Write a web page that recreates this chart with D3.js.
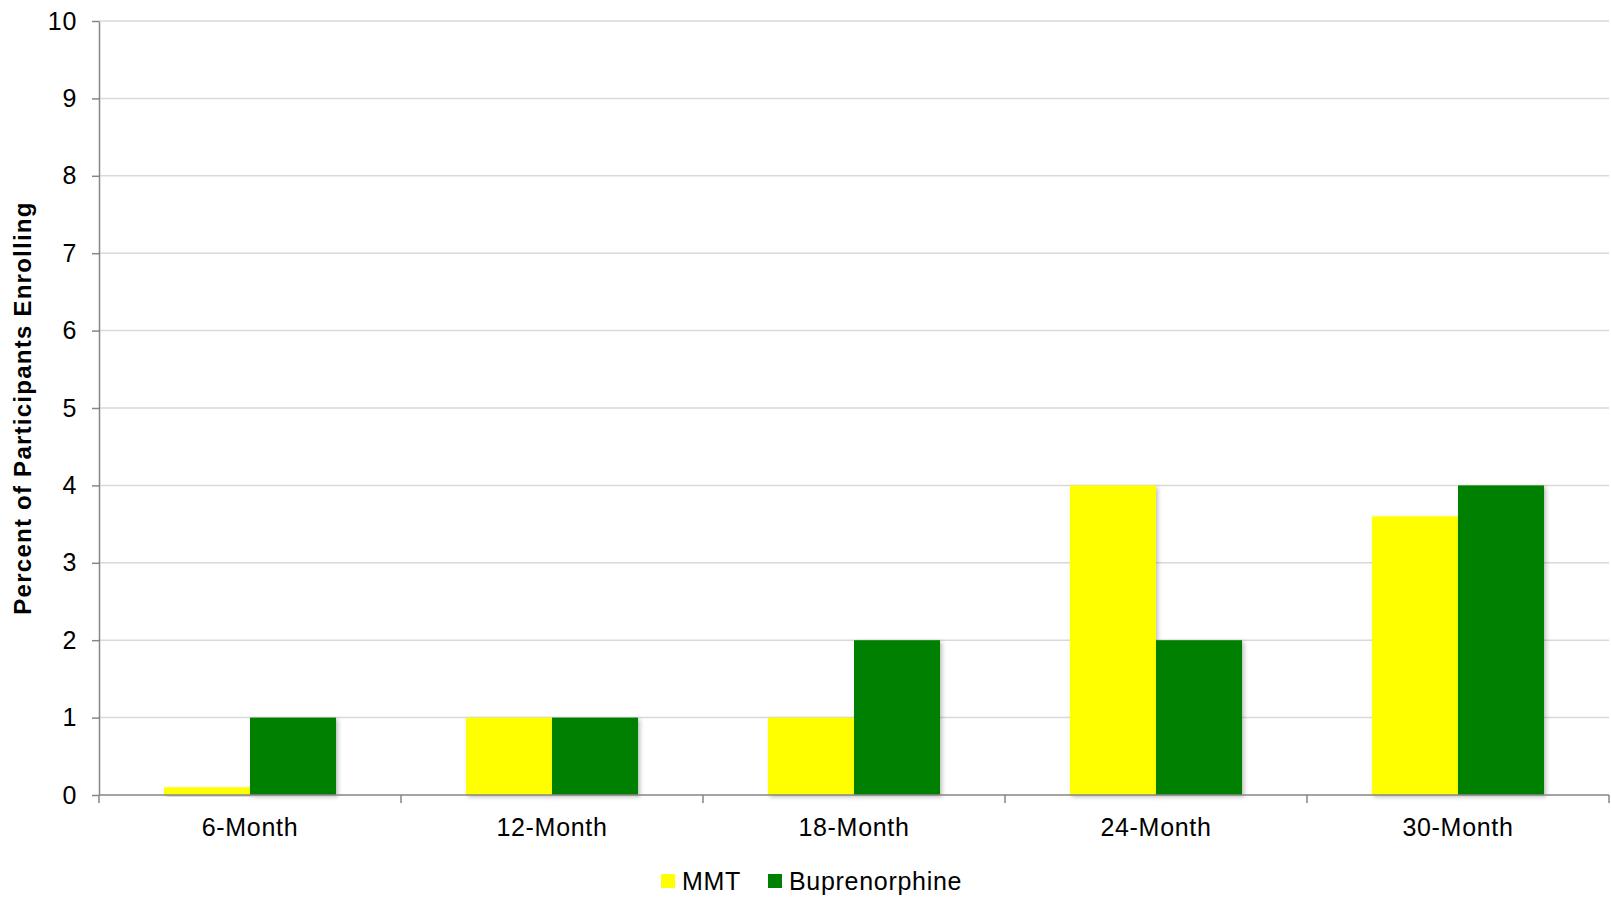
<!DOCTYPE html>
<html>
<head>
<meta charset="utf-8">
<script src="https://cdn.jsdelivr.net/npm/d3@7"></script>
<style>
  html, body { margin: 0; padding: 0; background: #fff; }
  svg { display: block; font-family: "Liberation Sans", Arial, sans-serif; }
</style>
</head>
<body>
<svg id="chart" width="1611" height="897"></svg>
<script>
// Enrollment by follow-up visit, per treatment arm
const categories = ["6-Month", "12-Month", "18-Month", "24-Month", "30-Month"];
const seriesNames = ["MMT", "Buprenorphine"];
const mmtValues = [0.1, 1, 1, 4, 3.6];
const buprenorphineValues = [1, 1, 2, 2, 4];
const seriesColors = ["#ffff00", "#008000"];
const yTicks = [0, 1, 2, 3, 4, 5, 6, 7, 8, 9, 10];

const seriesValues = [mmtValues, buprenorphineValues];

const labelFont = 25;
const labelSpacing = 0.7;

const svg = d3.select("#chart");
const margin = { top: 21, right: 2, bottom: 102, left: 99 };
const width = 1611 - margin.left - margin.right;
const height = 897 - margin.top - margin.bottom;

const defs = svg.append("defs");
const shadow = defs.append("filter").attr("id", "barShadow")
  .attr("x", "-10%").attr("y", "-10%").attr("width", "130%").attr("height", "130%");
shadow.append("feDropShadow").attr("dx", 2).attr("dy", 2).attr("stdDeviation", 2)
  .attr("flood-color", "#000").attr("flood-opacity", 0.25);

const g = svg.append("g").attr("transform", `translate(${margin.left},${margin.top})`);

const x0 = d3.scaleBand().domain(categories).range([0, width]).paddingInner(0.43).paddingOuter(0.215);
const x1 = d3.scaleBand().domain(seriesNames).range([0, x0.bandwidth()]);
const y = d3.scaleLinear().domain([0, 10]).range([height, 0]);

// horizontal gridlines
g.append("g").selectAll("line").data(yTicks.filter(d => d > 0)).join("line")
  .attr("x1", 0).attr("x2", width)
  .attr("y1", d => y(d)).attr("y2", d => y(d))
  .attr("stroke", "#d9d9d9").attr("stroke-width", 1.5);

// bars
const groups = g.append("g").selectAll("g").data(categories).join("g")
  .attr("transform", d => `translate(${x0(d)},0)`);
groups.selectAll("rect")
  .data((c, i) => seriesNames.map((s, k) => ({ s, k, v: seriesValues[k][i] })))
  .join("rect")
  .attr("x", d => x1(d.s))
  .attr("y", d => y(d.v))
  .attr("width", x1.bandwidth())
  .attr("height", d => y(0) - y(d.v))
  .attr("fill", d => seriesColors[d.k])
  .attr("filter", "url(#barShadow)");

// y axis
const yAxis = g.append("g")
  .call(d3.axisLeft(y).tickValues(yTicks).tickSize(7).tickPadding(15).tickSizeOuter(0));
yAxis.select(".domain").attr("stroke", "#868686").attr("stroke-width", 1.5);
yAxis.selectAll(".tick line").attr("stroke", "#868686").attr("stroke-width", 1.5);
yAxis.selectAll(".tick text").attr("font-size", labelFont).attr("fill", "#000")
  .attr("letter-spacing", labelSpacing)
  .attr("font-family", "Liberation Sans, Arial, sans-serif");

// x axis: baseline with boundary ticks
const xg = g.append("g").attr("transform", `translate(0,${height})`);
xg.append("line").attr("x1", 0).attr("x2", width).attr("y1", 0).attr("y2", 0)
  .attr("stroke", "#868686").attr("stroke-width", 1.5);
const boundaries = d3.range(categories.length + 1).map(i => i * width / categories.length);
xg.selectAll("line.bt").data(boundaries).join("line").attr("class", "bt")
  .attr("x1", d => d).attr("x2", d => d).attr("y1", 0).attr("y2", 8)
  .attr("stroke", "#868686").attr("stroke-width", 1.5);
xg.selectAll("text").data(categories).join("text")
  .attr("x", d => x0(d) + x0.bandwidth() / 2)
  .attr("y", 41)
  .attr("text-anchor", "middle")
  .attr("font-size", labelFont)
  .attr("letter-spacing", labelSpacing)
  .text(d => d);

// y axis title
svg.append("text")
  .attr("transform", `translate(31,${margin.top + height / 2}) rotate(-90)`)
  .attr("text-anchor", "middle")
  .attr("font-size", 24)
  .attr("font-weight", "bold")
  .attr("letter-spacing", 1.25)
  .text("Percent of Participants Enrolling");

// legend
const legendX = [661, 768];
const legend = svg.append("g");
seriesNames.forEach((name, k) => {
  legend.append("rect").attr("x", legendX[k]).attr("y", 874).attr("width", 14).attr("height", 14)
    .attr("fill", seriesColors[k]);
  legend.append("text").attr("x", legendX[k] + 21).attr("y", 890)
    .attr("font-size", labelFont).attr("letter-spacing", labelSpacing).text(name);
});
</script>
</body>
</html>
